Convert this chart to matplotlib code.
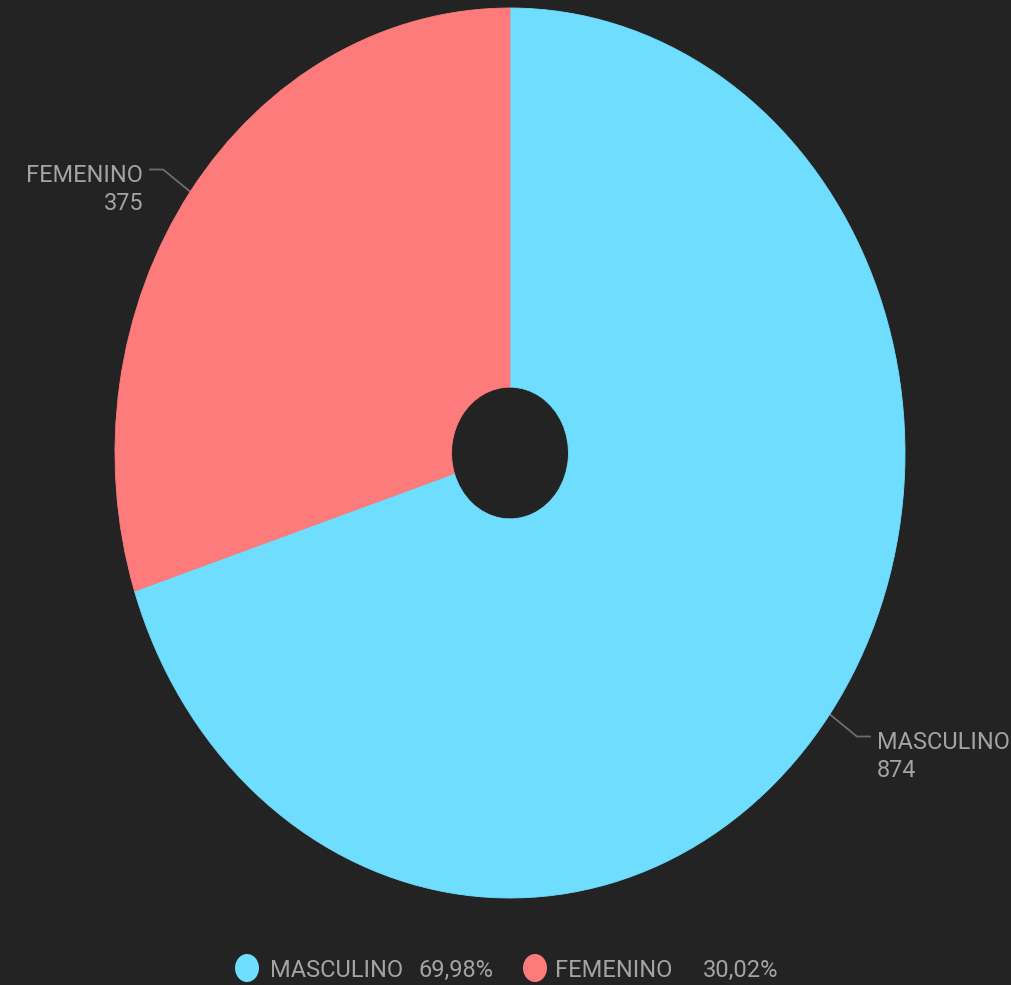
import numpy as np
import matplotlib
matplotlib.use("Agg")
import matplotlib.pyplot as plt
from matplotlib.patches import Ellipse

categories = ["MASCULINO", "FEMENINO"]
values = [874, 375]
colors = ["#6fddfe", "#fe7b7b"]

BG = "#232323"
TXT = "#a3a3a3"
LINE = "#6e6e6e"
FONT = "Roboto"

W, H = 1011, 985
fig = plt.figure(figsize=(W / 100, H / 100), dpi=100, facecolor=BG)

# pie axes covering the ellipse
px_l, px_r, px_t, px_b = 115, 905, 8, 898
ax = fig.add_axes([px_l / W, 1 - px_b / H, (px_r - px_l) / W, (px_b - px_t) / H])
ax.set_facecolor(BG)
wedges, _ = ax.pie(values, colors=colors, startangle=90, counterclock=False,
                   radius=1.0,
                   wedgeprops=dict(width=0.852, linewidth=0.6))
for w, col in zip(wedges, colors):
    w.set_edgecolor(col)
ax.set_aspect("auto")
ax.set_xlim(-1, 1)
ax.set_ylim(-1, 1)
ax.axis("off")

total = sum(values)
for w, cat, val in zip(wedges, categories, values):
    mid = np.deg2rad((w.theta1 + w.theta2) / 2)
    c, s = np.cos(mid), np.sin(mid)
    side = np.sign(c)
    x0, y0 = 0.985 * c, 0.985 * s
    xe, ye = 1.085 * c, 1.085 * s
    xh = xe + side * 0.033
    ax.plot([x0, xe, xh], [y0, ye, ye], color=LINE, lw=1.3, zorder=0,
            clip_on=False)
    ha = "left" if side > 0 else "right"
    xt = xh + side * 0.017
    ax.text(xt, ye - 0.028, cat, ha=ha, va="baseline", color=TXT,
            fontsize=16.9, family=FONT, clip_on=False)
    ax.text(xt, ye - 0.092, f"{val}", ha=ha, va="baseline", color=TXT,
            fontsize=16.9, family=FONT, clip_on=False)

# legend at bottom
base_y = 1 - 977 / H
circ_y = 1 - 968 / H
circle_x = [247, 535]
name_x = [270, 555]
pct_x = [418, 703]
for cx, nx, pxp, cat, val, col in zip(circle_x, name_x, pct_x, categories, values, colors):
    e = Ellipse((cx / W, circ_y), 24 / W, 28 / H, transform=fig.transFigure,
                facecolor=col, edgecolor="none")
    fig.patches.append(e)
    fig.text(nx / W, base_y, cat, ha="left", va="baseline", color=TXT,
             fontsize=17, family=FONT)
    pct = f"{100 * val / total:.2f}%".replace(".", ",")
    fig.text(pxp / W, base_y, pct, ha="left", va="baseline", color=TXT,
             fontsize=17, family=FONT)

fig.savefig("out.png", dpi=100, facecolor=BG)
